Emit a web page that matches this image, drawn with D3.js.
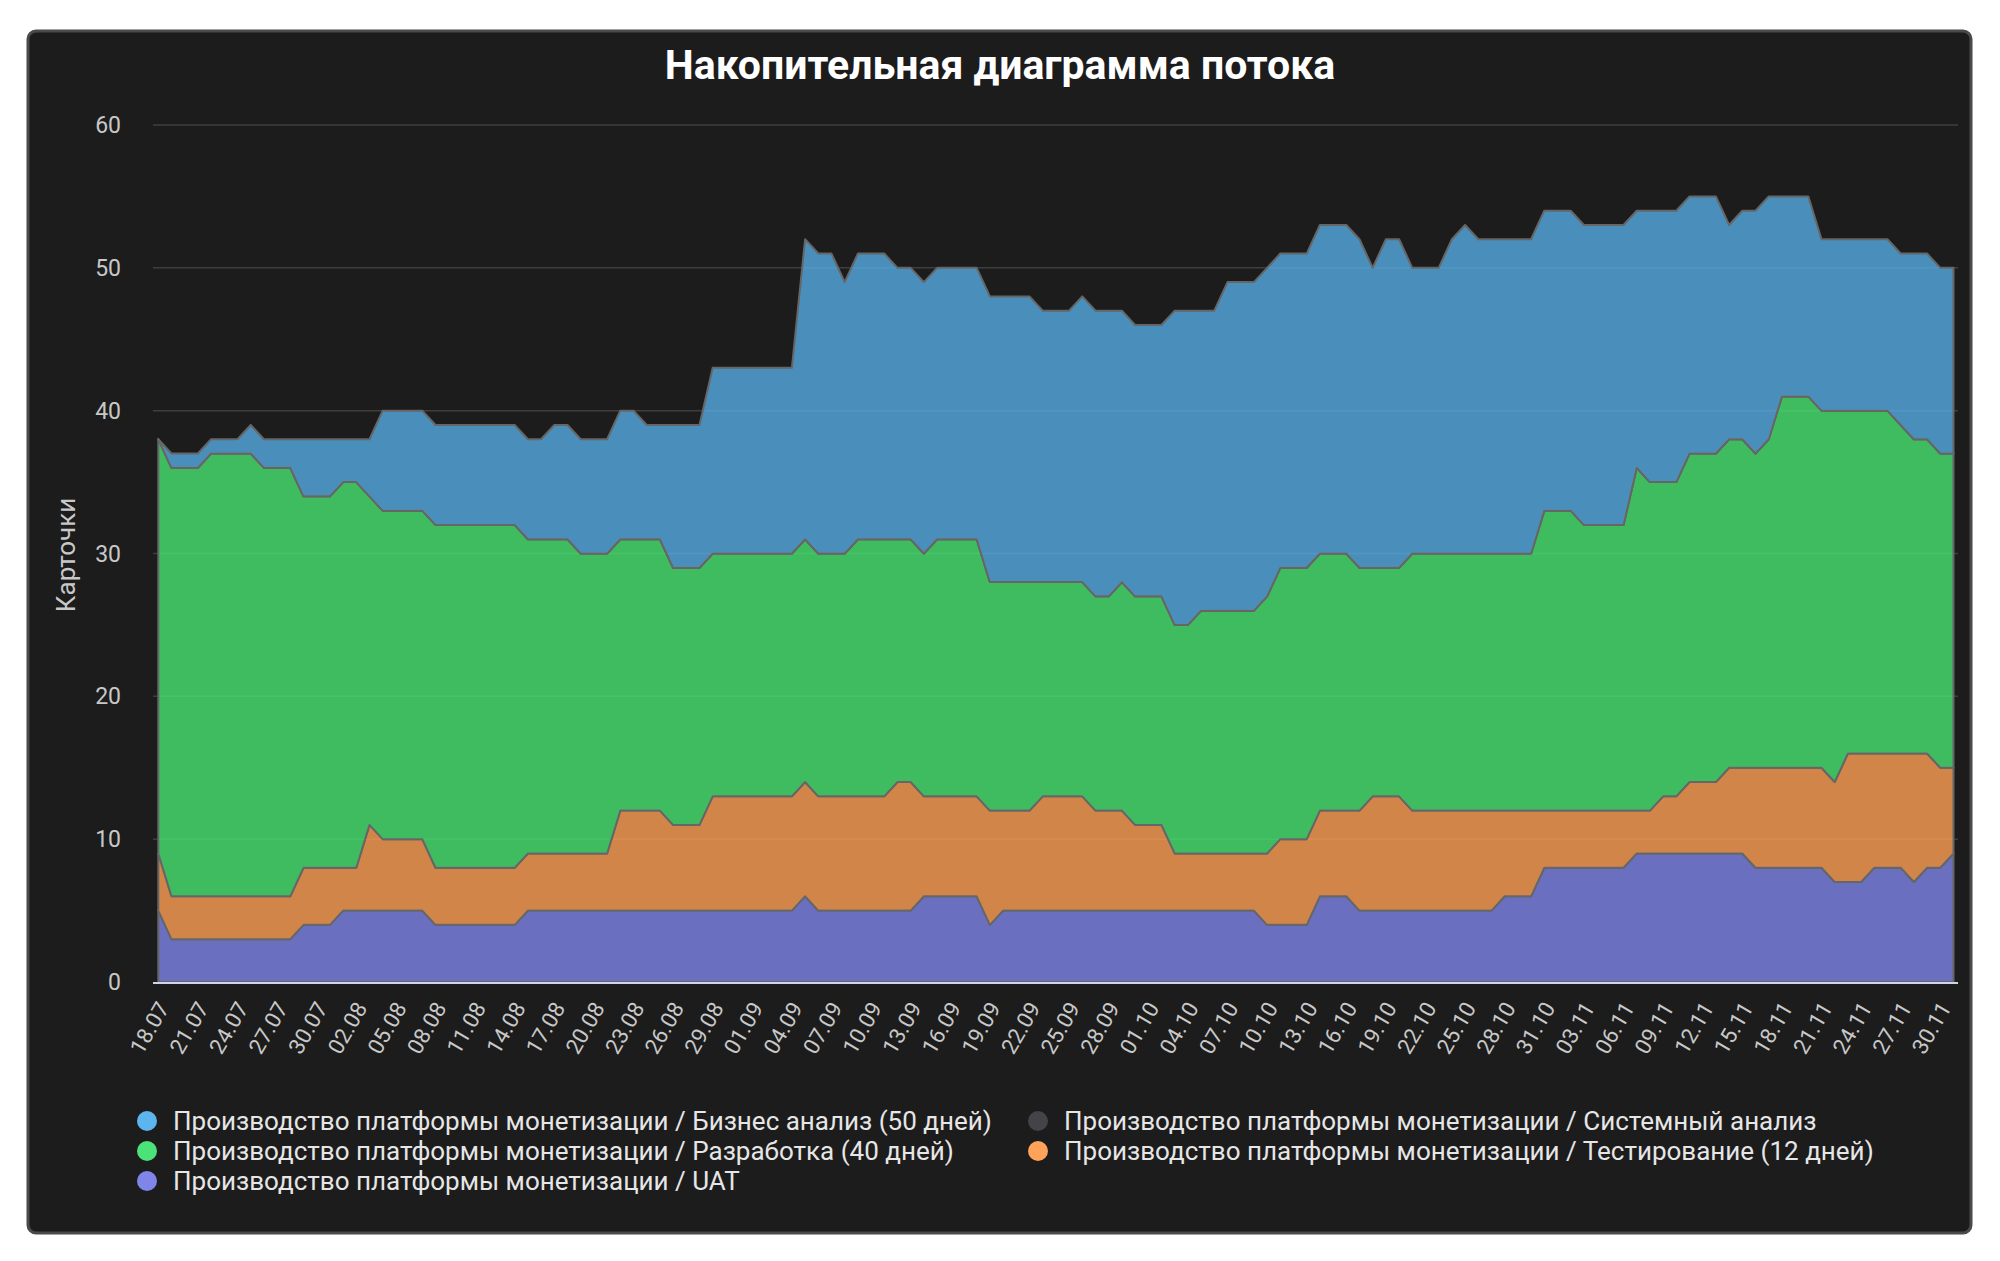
<!DOCTYPE html>
<html><head><meta charset="utf-8">
<script src="https://cdn.jsdelivr.net/npm/d3@7"></script>
<style>
html,body{margin:0;padding:0;background:#ffffff;}
svg{display:block;font-family:Roboto,"Noto Sans",sans-serif;}
</style></head>
<body>
<svg id="chart" width="2000" height="1261"></svg>
<script>
// ---- data ----
const tickLabels = ["18.07","21.07","24.07","27.07","30.07","02.08","05.08","08.08","11.08","14.08","17.08","20.08","23.08","26.08","29.08","01.09","04.09","07.09","10.09","13.09","16.09","19.09","22.09","25.09","28.09","01.10","04.10","07.10","10.10","13.10","16.10","19.10","22.10","25.10","28.10","31.10","03.11","06.11","09.11","12.11","15.11","18.11","21.11","24.11","27.11","30.11"];
const yTicks = [0,10,20,30,40,50,60];
const seriesNames = [
  "Производство платформы монетизации / Бизнес анализ (50 дней)",
  "Производство платформы монетизации / Системный анализ",
  "Производство платформы монетизации / Разработка (40 дней)",
  "Производство платформы монетизации / Тестирование (12 дней)",
  "Производство платформы монетизации / UAT"
];
const uat = [5,3,3,3,3,3,3,3,3,3, 3,4,4,4,5,5,5,5,5,5, 5,4,4,4,4,4,4,4,5,5, 5,5,5,5,5,5,5,5,5,5,
  5,5,5,5,5,5,5,5,5,6, 5,5,5,5,5,5,5,5,6,6, 6,6,6,4,5,5,5,5,5,5, 5,5,5,5,5,5,5,5,5,5,
  5,5,5,5,4,4,4,4,6,6, 6,5,5,5,5,5,5,5,5,5, 5,5,6,6,6,8,8,8,8,8, 8,8,9,9,9,9,9,9,9,9,
  9,8,8,8,8,8,8,7,7,7, 8,8,8,7,8,8,9];
const testing = [4,3,3,3,3,3,3,3,3,3, 3,4,4,4,3,3,6,5,5,5, 5,4,4,4,4,4,4,4,4,4, 4,4,4,4,4,7,7,7,7,6,
  6,6,8,8,8,8,8,8,8,8, 8,8,8,8,8,8,9,9,7,7, 7,7,7,8,7,7,7,8,8,8, 8,7,7,7,6,6,6,4,4,4,
  4,4,4,4,5,6,6,6,6,6, 6,7,8,8,8,7,7,7,7,7, 7,7,6,6,6,4,4,4,4,4, 4,4,3,3,4,4,5,5,5,6,
  6,7,7,7,7,7,7,7,9,9, 8,8,8,9,8,7,6];
const dev = [29,30,30,30,31,31,31,31,30,30, 30,26,26,26,27,27,23,23,23,23, 23,24,24,24,24,24,24,24,22,22,
  22,22,21,21,21,19,19,19,19,18, 18,18,17,17,17,17,17,17,17,17, 17,17,17,18,18,18,17,17,17,18,
  18,18,18,16,16,16,16,15,15,15, 15,15,15,16,16,16,16,16,16,17, 17,17,17,17,18,19,19,19,18,18,
  18,17,16,16,16,18,18,18,18,18, 18,18,18,18,18,21,21,21,20,20, 20,20,24,23,22,22,23,23,23,23,
  23,22,23,26,26,26,25,26,24,24, 24,24,23,22,22,22,22];
const sysAnalysis = [0,0,0,0,0,0,0,0,0,0, 0,0,0,0,0,0,0,0,0,0, 0,0,0,0,0,0,0,0,0,0, 0,0,0,0,0,0,0,0,0,0,
  0,0,0,0,0,0,0,0,0,0, 0,0,0,0,0,0,0,0,0,0, 0,0,0,0,0,0,0,0,0,0, 0,0,0,0,0,0,0,0,0,0,
  0,0,0,0,0,0,0,0,0,0, 0,0,0,0,0,0,0,0,0,0, 0,0,0,0,0,0,0,0,0,0, 0,0,0,0,0,0,0,0,0,0,
  0,0,0,0,0,0,0,0,0,0, 0,0,0,0,0,0,0];
const business = [0,1,1,1,1,1,1,2,2,2, 2,4,4,4,3,3,4,7,7,7, 7,7,7,7,7,7,7,7,7,7, 8,8,8,8,8,9,9,8,8,10,
  10,10,13,13,13,13,13,13,13,21, 21,21,19,20,20,20,19,19,19,19, 19,19,19,20,20,20,20,19,19,19,
  20,20,20,19,19,19,19,22,22,21, 21,23,23,23,23,22,22,22,23,23, 23,23,21,23,23,20,20,20,22,23,
  22,22,22,22,22,21,21,21,21,21, 21,21,18,19,19,19,18,18,18,15, 16,17,17,14,14,14,12,12,12,12,
  12,12,12,13,13,13,13];

// ---- layout ----
const svg = d3.select("#chart");
const plot = {left:153, right:1958, top:125, bottom:982};
const colors = {business:"#56ade4", sys:"#434348", dev:"#48e372", testing:"#ffa055", uat:"#8085e9"};
const legendColors = ["#5db4ee","#434348","#4be27a","#ffa35a","#8085e9"];

svg.append("rect").attr("x",28).attr("y",31).attr("width",1943).attr("height",1202)
  .attr("rx",8).attr("fill","#1c1c1c").attr("stroke","#4a4a4a").attr("stroke-width",3);

const n = uat.length;
const x = d3.scaleLinear().domain([0, n-1]).range([158.3, 1953.5]);
const y = d3.scaleLinear().domain([0, 60]).range([plot.bottom, plot.top]);

// gridlines
svg.append("g").selectAll("line").data(yTicks.filter(d=>d>0)).join("line")
  .attr("x1",plot.left).attr("x2",plot.right)
  .attr("y1",d=>y(d)).attr("y2",d=>y(d))
  .attr("stroke","#3e3e3e").attr("stroke-width",1.5);

// stack
const rows = d3.range(n).map(i=>({i, uat:uat[i], testing:testing[i], dev:dev[i], sys:sysAnalysis[i], business:business[i]}));
const keys = ["uat","testing","dev","sys","business"];
const stacked = d3.stack().keys(keys)(rows);
const area = d3.area().x(d=>x(d.data.i)).y0(d=>y(d[0])).y1(d=>y(d[1]));
svg.append("g").selectAll("path").data(stacked).join("path")
  .attr("d",area)
  .attr("fill",d=>colors[d.key]).attr("fill-opacity",0.8)
  .attr("stroke","#666666").attr("stroke-width",2).attr("stroke-linejoin","round");

// x axis line
svg.append("line").attr("x1",plot.left).attr("x2",plot.right)
  .attr("y1",plot.bottom+1).attr("y2",plot.bottom+1)
  .attr("stroke","#ccd6eb").attr("stroke-width",2);

// y labels
svg.append("g").selectAll("text").data(yTicks).join("text")
  .attr("x",121).attr("y",d=>y(d)).attr("dy","0.35em")
  .attr("text-anchor","end").attr("fill","#c8c8c8").attr("font-size",23)
  .text(d=>d);

// x labels (every 3 days)
const xg = svg.append("g");
tickLabels.forEach((t,k)=>{
  const xi = x(k*3)+5, yi = plot.bottom+22;
  xg.append("text").attr("x",xi).attr("y",yi).attr("dy","0.35em")
    .attr("text-anchor","end").attr("fill","#c8c8c8").attr("font-size",22)
    .attr("transform",`rotate(-60,${xi},${yi})`).text(t);
});

// y axis title
svg.append("text").attr("transform","translate(66,555) rotate(-90)")
  .attr("text-anchor","middle").attr("dy","0.35em").attr("fill","#c8c8c8").attr("font-size",26)
  .text("Карточки");

// title
svg.append("text").attr("x",1000).attr("y",79).attr("text-anchor","middle")
  .attr("fill","#ffffff").attr("font-size",41).attr("font-weight",700)
  .text("Накопительная диаграмма потока");

// legend
const legendPos = [[147,1121],[1038,1121],[147,1151],[1038,1151],[147,1181]];
const lg = svg.append("g");
seriesNames.forEach((name,k)=>{
  const [cx,cy] = legendPos[k];
  lg.append("circle").attr("cx",cx).attr("cy",cy).attr("r",10).attr("fill",legendColors[k]);
  lg.append("text").attr("x",cx+26).attr("y",cy).attr("dy","0.35em")
    .attr("fill","#e6e6e6").attr("font-size",26).text(name);
});
</script>
</body></html>
